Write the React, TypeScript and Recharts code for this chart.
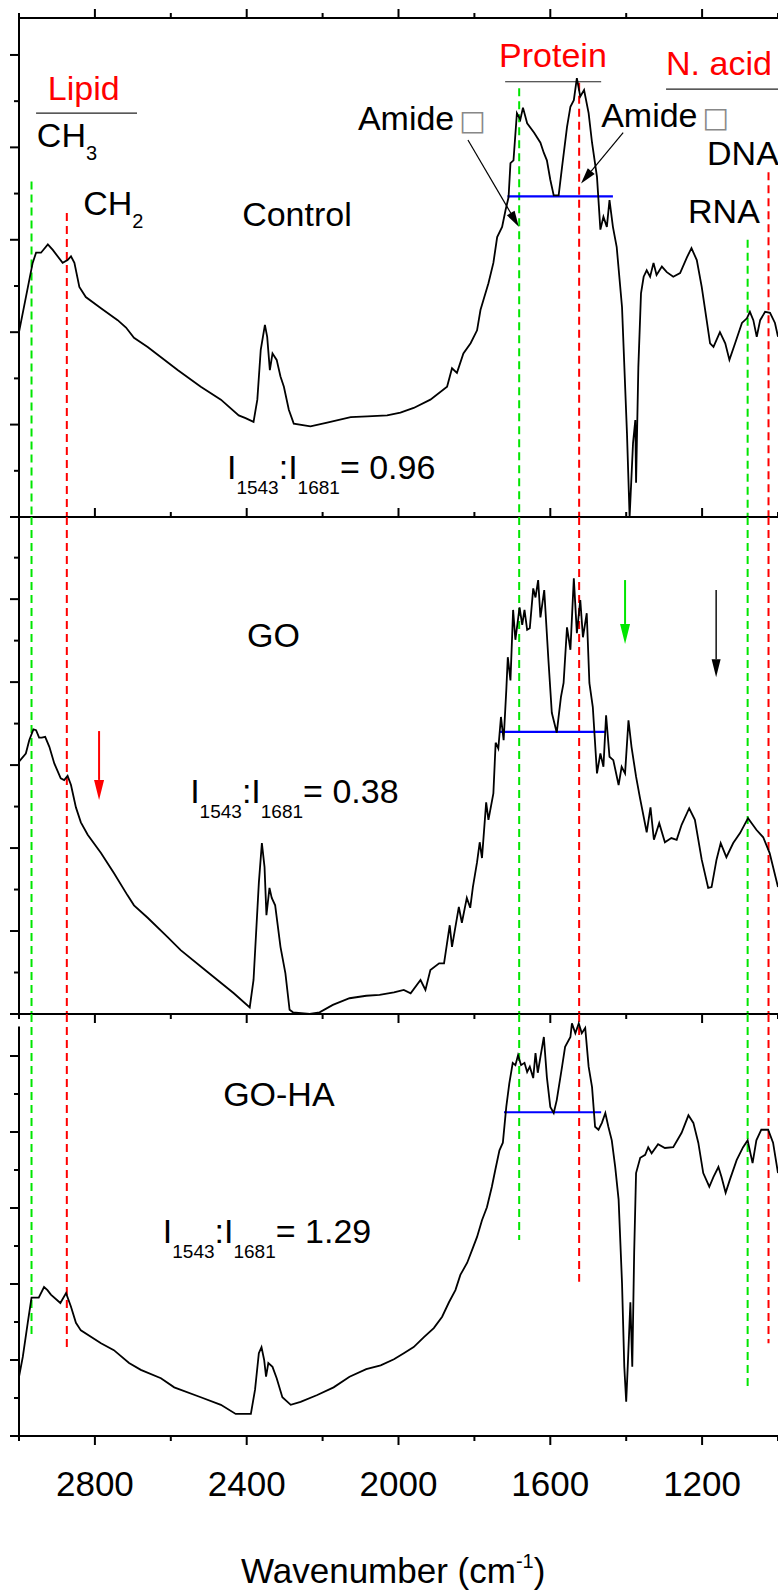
import React from 'react';
import { LineChart, Line, XAxis, YAxis, ReferenceLine, ReferenceDot } from 'recharts';

const FONT = '"Liberation Sans", Arial, Helvetica, sans-serif';

// ---------- data (wavenumber in cm-1, signal in arbitrary units) ----------
const controlWavenumber = [
  3000, 2964, 2955, 2942, 2924, 2911, 2885, 2872, 2863, 2854,
  2841, 2824, 2784, 2740, 2718, 2697, 2661, 2582, 2521, 2468,
  2421, 2403, 2382, 2372, 2363, 2352, 2346, 2339, 2332, 2321,
  2311, 2302, 2289, 2276, 2232, 2188, 2126, 2082, 2030, 1995,
  1960, 1916, 1872, 1859, 1846, 1829, 1810, 1793, 1784, 1776,
  1763, 1750, 1740, 1727, 1718, 1710, 1705, 1697, 1688, 1679,
  1672, 1661, 1643, 1626, 1617, 1609, 1600, 1591, 1578, 1569,
  1556, 1547, 1538, 1530, 1521, 1511, 1499, 1490, 1477, 1468,
  1460, 1451, 1444, 1435, 1425, 1411, 1398, 1391, 1382, 1376,
  1374, 1368, 1361, 1354, 1346, 1337, 1328, 1320, 1306, 1293,
  1276, 1258, 1240, 1228, 1214, 1201, 1188, 1179, 1170, 1153,
  1139, 1128, 1113, 1095, 1082, 1074, 1065, 1056, 1047, 1034,
  1021, 1008, 1000,
];
const controlSignal = [
  2.0, 2.75, 2.86, 2.86, 2.95, 2.89, 2.75, 2.78, 2.82, 2.75,
  2.49, 2.38, 2.26, 2.13, 2.05, 1.94, 1.84, 1.59, 1.41, 1.27,
  1.1, 1.07, 1.03, 1.27, 1.81, 2.08, 1.95, 1.59, 1.77, 1.7,
  1.52, 1.41, 1.16, 1.01, 0.98, 1.02, 1.08, 1.09, 1.1, 1.13,
  1.18, 1.27, 1.41, 1.61, 1.56, 1.77, 1.88, 2.02, 2.24, 2.35,
  2.53, 2.75, 3.03, 3.14, 3.32, 3.46, 3.83, 3.86, 4.37, 4.3,
  4.43, 4.26, 4.16, 4.05, 3.94, 3.86, 3.65, 3.48, 3.48, 3.79,
  4.22, 4.44, 4.51, 4.75, 4.55, 4.62, 4.37, 4.05, 3.68, 3.11,
  3.25, 3.14, 3.43, 3.14, 2.92, 2.27, 0.91, 0.0, 0.8, 1.05,
  0.37, 1.62, 2.42, 2.6, 2.67, 2.6, 2.75, 2.62, 2.71, 2.65,
  2.6, 2.64, 2.81, 2.91, 2.78, 2.49, 2.13, 1.88, 1.84, 2.0,
  1.88, 1.7, 1.88, 2.1, 2.15, 2.22, 2.13, 1.95, 2.13, 2.22,
  2.21, 2.1, 1.95,
];

const goWavenumber = [
  3000, 2982, 2973, 2962, 2955, 2947, 2940, 2931, 2920, 2907,
  2890, 2881, 2872, 2863, 2850, 2837, 2819, 2784, 2750, 2714,
  2697, 2661, 2609, 2574, 2504, 2434, 2392, 2382, 2368, 2360,
  2353, 2348, 2340, 2334, 2325, 2311, 2298, 2287, 2278, 2234,
  2208, 2173, 2129, 2085, 2050, 2012, 1986, 1968, 1942, 1929,
  1916, 1893, 1880, 1865, 1859, 1841, 1833, 1820, 1811, 1804,
  1793, 1786, 1780, 1769, 1763, 1750, 1744, 1737, 1730, 1723,
  1716, 1712, 1705, 1698, 1692, 1681, 1674, 1668, 1661, 1654,
  1645, 1639, 1632, 1626, 1616, 1605, 1596, 1583, 1572, 1565,
  1556, 1547, 1538, 1530, 1521, 1514, 1504, 1497, 1488, 1477,
  1468, 1460, 1453, 1444, 1434, 1420, 1412, 1403, 1394, 1386,
  1374, 1364, 1346, 1336, 1327, 1313, 1298, 1281, 1267, 1254,
  1234, 1219, 1201, 1184, 1175, 1162, 1151, 1136, 1118, 1100,
  1079, 1057, 1039, 1022, 1000,
];
const goSignal = [
  3.04, 3.14, 3.3, 3.43, 3.42, 3.33, 3.33, 3.34, 3.22, 3.02,
  2.84, 2.82, 2.87, 2.76, 2.49, 2.31, 2.16, 1.94, 1.7, 1.43,
  1.31, 1.16, 0.93, 0.77, 0.51, 0.25, 0.08, 0.41, 1.58, 2.06,
  1.77, 1.19, 1.52, 1.4, 1.31, 0.81, 0.49, 0.05, 0.02, 0.0,
  0.02, 0.11, 0.19, 0.22, 0.23, 0.26, 0.29, 0.25, 0.41, 0.29,
  0.53, 0.61, 0.61, 1.07, 0.81, 1.29, 1.1, 1.4, 1.28, 1.53,
  1.83, 2.07, 1.88, 2.55, 2.34, 2.66, 3.27, 3.2, 3.58, 3.3,
  3.9, 4.3, 4.02, 4.87, 4.51, 4.9, 4.69, 4.87, 4.63, 4.65,
  5.13, 5.02, 5.23, 4.78, 5.11, 4.27, 3.63, 3.39, 3.82, 3.99,
  4.66, 4.39, 5.25, 4.59, 4.99, 4.54, 4.83, 3.99, 3.7, 2.9,
  3.14, 2.98, 3.6, 3.1, 3.06, 2.76, 2.98, 2.9, 3.54, 3.22,
  2.86, 2.61, 2.19, 2.49, 2.1, 2.3, 2.07, 2.12, 2.1, 2.28,
  2.48, 2.34, 1.86, 1.52, 1.53, 1.86, 2.06, 1.89, 2.06, 2.18,
  2.36, 2.22, 2.13, 1.94, 1.53,
];

const gohaWavenumber = [
  3000, 2990, 2977, 2967, 2960, 2948, 2934, 2925, 2916, 2891,
  2876, 2863, 2850, 2837, 2784, 2750, 2710, 2679, 2626, 2591,
  2521, 2468, 2429, 2389, 2378, 2368, 2361, 2354, 2349, 2343,
  2332, 2321, 2306, 2284, 2258, 2214, 2171, 2129, 2085, 2047,
  2012, 1986, 1960, 1933, 1907, 1885, 1867, 1850, 1837, 1819,
  1806, 1793, 1780, 1767, 1754, 1745, 1734, 1725, 1716, 1708,
  1699, 1692, 1685, 1677, 1668, 1661, 1654, 1645, 1639, 1633,
  1626, 1617, 1609, 1600, 1591, 1583, 1569, 1561, 1547, 1543,
  1534, 1525, 1517, 1508, 1499, 1490, 1482, 1473, 1464, 1455,
  1447, 1438, 1429, 1420, 1411, 1405, 1400, 1396, 1389, 1384,
  1379, 1374, 1363, 1350, 1342, 1333, 1316, 1298, 1276, 1254,
  1236, 1223, 1210, 1197, 1181, 1170, 1157, 1149, 1138, 1127,
  1109, 1092, 1080, 1067, 1057, 1044, 1026, 1013, 1000,
];
const gohaSignal = [
  0.78, 1.04, 1.49, 1.82, 1.82, 1.82, 1.96, 1.92, 1.86, 1.75,
  1.88, 1.7, 1.49, 1.39, 1.22, 1.13, 0.96, 0.87, 0.76, 0.64,
  0.51, 0.41, 0.29, 0.29, 0.61, 1.09, 1.17, 1.0, 0.78, 0.96,
  0.91, 0.76, 0.51, 0.41, 0.45, 0.54, 0.64, 0.78, 0.88, 0.93,
  1.01, 1.09, 1.17, 1.3, 1.42, 1.57, 1.76, 1.92, 2.12, 2.28,
  2.45, 2.62, 2.84, 3.01, 3.28, 3.5, 3.76, 3.86, 4.33, 4.64,
  4.91, 4.88, 5.01, 4.88, 4.91, 4.79, 4.86, 4.71, 5.04, 4.78,
  4.99, 5.25, 4.72, 4.33, 4.25, 4.42, 4.86, 5.12, 5.25, 5.43,
  5.3, 5.43, 5.3, 5.37, 4.86, 4.59, 4.07, 4.03, 4.12, 4.25,
  4.07, 3.89, 3.54, 3.11, 2.01, 0.91, 0.45, 0.91, 1.76, 0.91,
  2.41, 3.46, 3.66, 3.7, 3.8, 3.72, 3.84, 3.79, 3.8, 3.99,
  4.22, 4.12, 3.86, 3.46, 3.28, 3.41, 3.54, 3.41, 3.2, 3.37,
  3.63, 3.8, 3.89, 3.59, 3.89, 4.03, 4.03, 3.86, 3.46,
];

// ---------- ticks ----------
const xMajorTicks = [2800, 2400, 2000, 1600, 1200];
const xMinorTicks = [3000, 2600, 2200, 1800, 1400, 1000];
const xTickLabels = ['2800', '2400', '2000', '1600', '1200'];
const yMajorTicks = [0, 1, 2, 3, 4, 5];
const yMinorTicks = [0.5, 1.5, 2.5, 3.5, 4.5, 5.5];

// ---------- annotations ----------
const sampleNames = ['Control', 'GO', 'GO-HA'];
const ratioValues = ['0.96', '0.38', '1.29'];
const bandWavenumbers = [2967, 2874, 1682, 1524, 1080, 1025];
const bandColors = ['#00e600', '#ff0000', '#00e600', '#ff0000', '#00e600', '#ff0000'];
const bandTopControl = [3.63, 3.29, 4.64, 4.7, 3.0, 3.73];
const bandEndGoha = [1.3, 1.16, 2.58, 2.03, 0.63, 1.22];

const DOMAIN_X: [number, number] = [1000, 3000];
const P1_TOP = 5.4;
const P2_TOP = 5.99;
const P3_TOP = 5.553;

const rows = (wn: number[], s: number[]) => wn.map((w, i) => ({ wn: w, v: s[i] }));
const controlRows = rows(controlWavenumber, controlSignal);
const goRows = rows(goWavenumber, goSignal);
const gohaRows = rows(gohaWavenumber, gohaSignal);

const AX = { stroke: '#000', strokeWidth: 2 };
const xTicksAll = [...xMajorTicks, ...xMinorTicks].sort((a, b) => a - b);

const xTick = (dir: number, withLabels: boolean) => (props: any) => {
  const { x, y, payload } = props;
  const idx = xMajorTicks.indexOf(payload.value);
  const len = idx >= 0 ? 9 : 5;
  return (
    <g>
      <line x1={x} x2={x} y1={y} y2={y + dir * len} stroke="#000" strokeWidth={2} />
      {withLabels && idx >= 0 ? (
        <text x={x} y={y + 60} textAnchor="middle" fontFamily={FONT} fontSize={35} fill="#000">
          {xTickLabels[idx]}
        </text>
      ) : null}
    </g>
  );
};

const yTick = (props: any) => {
  const { x, y, payload } = props;
  const len = yMajorTicks.includes(payload.value) ? 9 : 5;
  return <line x1={x - len} x2={x} y1={y} y2={y} stroke="#000" strokeWidth={2} />;
};

const yTicksUpTo = (top: number) => [...yMajorTicks, ...yMinorTicks].filter((t) => t <= top).sort((a, b) => a - b);

const note = (key: string, wn: number, v: number, draw: (cx: number, cy: number) => React.ReactElement) => (
  <ReferenceDot key={key} x={wn} y={v} r={0} ifOverflow="visible" shape={(p: any) => draw(p.cx, p.cy)} />
);

const seg = (key: string, x1: number, y1: number, x2: number, y2: number, stroke: string, width: number, dash?: string) => (
  <ReferenceLine
    key={key}
    segment={[{ x: x1, y: y1 }, { x: x2, y: y2 }]}
    ifOverflow="visible"
    stroke={stroke}
    strokeWidth={width}
    strokeDasharray={dash}
  />
);

const arrow = (key: string, x1: number, y1: number, x2: number, y2: number, color: string, width: number, headLen: number, headW: number) => (
  <ReferenceLine
    key={key}
    segment={[{ x: x1, y: y1 }, { x: x2, y: y2 }]}
    ifOverflow="visible"
    shape={(p: any) => {
      const ax = Number(p.x1), ay = Number(p.y1), bx = Number(p.x2), by = Number(p.y2);
      const dx = bx - ax, dy = by - ay;
      const L = Math.hypot(dx, dy) || 1;
      const ux = dx / L, uy = dy / L;
      const hx = bx - ux * headLen, hy = by - uy * headLen;
      const nx = (-uy * headW) / 2, ny = (ux * headW) / 2;
      return (
        <g>
          <line x1={ax} y1={ay} x2={hx} y2={hy} stroke={color} strokeWidth={width} />
          <polygon points={`${bx},${by} ${hx + nx},${hy + ny} ${hx - nx},${hy - ny}`} fill={color} />
        </g>
      );
    }}
  />
);

const txt = (cx: number, cy: number, content: React.ReactNode, color = '#000', size = 34) => (
  <text x={cx} y={cy} fontFamily={FONT} fontSize={size} fill={color}>
    {content}
  </text>
);

const ratio = (cx: number, cy: number, value: string) => (
  <text x={cx} y={cy} fontFamily={FONT} fontSize={34} fill="#000">
    I<tspan fontSize={19} dy={15}>1543</tspan>
    <tspan dy={-15}>:I</tspan>
    <tspan fontSize={19} dy={15}>1681</tspan>
    <tspan dy={-15}>= {value}</tspan>
  </text>
);

const amide = (cx: number, cy: number) => (
  <text x={cx} y={cy} fontFamily={FONT} fontSize={34} fill="#000">
    Amide<tspan dx={5} fontFamily="DejaVu Sans" fontSize={28} fill="#888">□</tspan>
  </text>
);

const chem = (cx: number, cy: number, sub: string) => (
  <text x={cx} y={cy} fontFamily={FONT} fontSize={34} fill="#000">
    CH<tspan fontSize={20} dy={13}>{sub}</tspan>
  </text>
);

const curve = (
  <Line
    type="linear"
    dataKey="v"
    stroke="#000"
    strokeWidth={1.8}
    dot={false}
    activeDot={false}
    isAnimationActive={false}
  />
);

const xAxisProps = {
  dataKey: 'wn',
  type: 'number' as const,
  domain: DOMAIN_X,
  reversed: true,
  allowDataOverflow: true,
  ticks: xTicksAll,
  interval: 0 as const,
  height: 1,
  tickSize: 0,
  tickMargin: 0,
  tickLine: false,
  axisLine: AX,
};

const yAxisBase = {
  type: 'number' as const,
  allowDataOverflow: true,
  interval: 0 as const,
  width: 1,
  tickSize: 0,
  tickMargin: 0,
  tickLine: false,
  tick: yTick,
};

function Panel1() {
  return (
    <LineChart width={778} height={540} data={controlRows} margin={{ top: 17, right: 0, bottom: 22, left: 18 }}>
      <XAxis {...xAxisProps} tick={xTick(-1, false)} />
      <XAxis {...xAxisProps} xAxisId="top" orientation="top" tick={xTick(-1, false)} />
      <YAxis {...yAxisBase} domain={[0, P1_TOP]} ticks={yTicksUpTo(P1_TOP)} axisLine={AX} />
      {bandWavenumbers.map((w, i) => seg(`b${i}`, w, bandTopControl[i], w, 0, bandColors[i], 2, '8 5'))}
      {seg('blue1', 1713, 3.47, 1435, 3.47, '#0000ff', 2.2)}
      {seg('lipidBar', 2955, 4.37, 2689, 4.37, '#222', 1.2)}
      {seg('protBar', 1719, 4.71, 1466, 4.71, '#222', 1.2)}
      {seg('naBar', 1295, 4.63, 1000, 4.63, '#222', 1.2)}
      {curve}
      {arrow('a1', 1817, 4.08, 1683, 3.14, '#000', 1.2, 16, 9)}
      {arrow('a2', 1408, 4.16, 1519, 3.61, '#000', 1.2, 16, 9)}
      {note('lipid', 2924, 4.51, (x, y) => txt(x, y, 'Lipid', '#ff0000'))}
      {note('ch3', 2953, 4.0, (x, y) => chem(x, y, '3'))}
      {note('ch2', 2831, 3.27, (x, y) => chem(x, y, '2'))}
      {note('name1', 2412, 3.15, (x, y) => txt(x, y, sampleNames[0]))}
      {note('amL', 2107, 4.19, (x, y) => amide(x, y))}
      {note('prot', 1735, 4.87, (x, y) => txt(x, y, 'Protein', '#ff0000'))}
      {note('na', 1295, 4.78, (x, y) => txt(x, y, 'N. acid', '#ff0000'))}
      {note('amR', 1466, 4.22, (x, y) => amide(x, y))}
      {note('dna', 1187, 3.81, (x, y) => txt(x, y, 'DNA'))}
      {note('rna', 1237, 3.18, (x, y) => txt(x, y, 'RNA'))}
      {note('r1', 2452, 0.41, (x, y) => ratio(x, y, ratioValues[0]))}
    </LineChart>
  );
}

function Panel2() {
  return (
    <LineChart width={778} height={540} data={goRows} margin={{ top: 17, right: 0, bottom: 25, left: 18 }}>
      <XAxis {...xAxisProps} tick={xTick(1, false)} />
      <YAxis {...yAxisBase} domain={[0, P2_TOP]} ticks={yTicksUpTo(P2_TOP)} axisLine={AX} />
      {bandWavenumbers.map((w, i) => seg(`b${i}`, w, P2_TOP, w, 0, bandColors[i], 2, '8 5'))}
      {seg('blue2', 1735, 3.4, 1455, 3.4, '#0000ff', 2.2)}
      {curve}
      {arrow('red', 2789, 3.41, 2789, 2.58, '#ff0000', 2, 20, 10)}
      {arrow('green', 1403, 5.23, 1403, 4.46, '#00e600', 2, 20, 10)}
      {arrow('black', 1163, 5.11, 1163, 4.06, '#000', 1.4, 18, 9)}
      {note('name2', 2399, 4.42, (x, y) => txt(x, y, sampleNames[1]))}
      {note('r2', 2549, 2.54, (x, y) => ratio(x, y, ratioValues[1]))}
    </LineChart>
  );
}

function Panel3() {
  return (
    <LineChart width={778} height={593} data={gohaRows} margin={{ top: 14, right: 0, bottom: 156, left: 18 }}>
      <XAxis {...xAxisProps} tick={xTick(1, true)} />
      <YAxis {...yAxisBase} domain={[0, P3_TOP]} ticks={yTicksUpTo(5)} axisLine={false} />
      {seg('leftAxis', 3000, 0, 3000, 5.39, '#000', 2)}
      {bandWavenumbers.map((w, i) => seg(`b${i}`, w, P3_TOP, w, bandEndGoha[i], bandColors[i], 2, '8 5'))}
      {seg('blue3', 1722, 4.26, 1466, 4.26, '#0000ff', 2.2)}
      {curve}
      {note('name3', 2462, 4.34, (x, y) => txt(x, y, sampleNames[2]))}
      {note('r3', 2621, 2.54, (x, y) => ratio(x, y, ratioValues[2]))}
      {note('xtitle', 2014, 0, (x, y) => (
        <text x={x} y={y + 147} textAnchor="middle" fontFamily={FONT} fontSize={35} fill="#000">
          Wavenumber (cm<tspan fontSize={20} dy={-15}>-1</tspan>
          <tspan dy={15}>)</tspan>
        </text>
      ))}
    </LineChart>
  );
}

export default function App() {
  return (
    <div style={{ position: 'absolute', left: 0, top: 0, width: 778, height: 1593, background: '#fff', overflow: 'hidden' }}>
      <div style={{ position: 'absolute', left: 0, top: 0 }}>
        <Panel1 />
      </div>
      <div style={{ position: 'absolute', left: 0, top: 500 }}>
        <Panel2 />
      </div>
      <div style={{ position: 'absolute', left: 0, top: 1000 }}>
        <Panel3 />
      </div>
    </div>
  );
}
